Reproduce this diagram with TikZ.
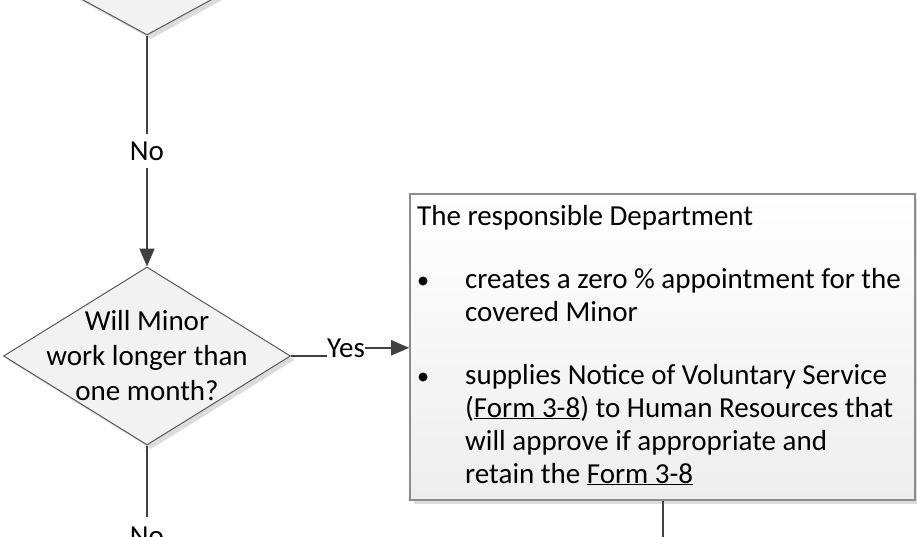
\documentclass[tikz,border=0pt]{standalone}
\usepackage{fontspec}
\setmainfont{Carlito}
\usetikzlibrary{shapes.geometric,arrows.meta,shadows}
\definecolor{lineC}{HTML}{404040}
\definecolor{diaFill}{HTML}{F2F2F2}
\definecolor{diaEdge}{HTML}{595959}
\definecolor{boxEdge}{HTML}{8C8C8C}
\definecolor{boxBot}{HTML}{EEEEEE}
\definecolor{shadowC}{HTML}{DCDCDC}
\begin{document}
\begin{tikzpicture}[x=1pt,y=-1pt,
  every node/.style={font=\fontsize{29}{33}\selectfont},
  dia/.style={shape=diamond, draw=diaEdge, line width=1pt, fill=diaFill, inner sep=0pt,
    minimum height=178pt,
    drop shadow={shadow xshift=4pt, shadow yshift=-4pt, fill=shadowC, opacity=1}},
  procbox/.style={shape=rectangle, draw=boxEdge, line width=1.6pt, top color=white, bottom color=boxBot,
    inner sep=0pt, minimum width=505pt, minimum height=306pt,
    drop shadow={shadow xshift=4pt, shadow yshift=-4pt, fill=shadowC, opacity=1}},
  txt/.style={anchor=base west, inner sep=0pt},
  ctxt/.style={anchor=base, inner sep=0pt},
  bul/.style={shape=circle, fill=black, inner sep=0pt, minimum size=9pt},
  conn/.style={draw=lineC, line width=2pt},
  arr/.style={conn, -{Triangle[length=18pt,width=15pt]}},
  lbl/.style={fill=white, inner xsep=2pt, inner ysep=8pt}
]
\useasboundingbox (0,0) rectangle (917,536);
\clip (0,0) rectangle (917,536);

% shapes
\node[dia, minimum width=326pt] (d1) at (147,-54) {};
\node[dia, minimum width=287pt] (d2) at (147,356) {};
\node[procbox] (box) at (662.5,347) {};

% decision text
\node[ctxt] (q1) at (147,330) {Will Minor};
\node[ctxt] (q2) at (147,365) {work longer than};
\node[ctxt] (q3) at (147,400) {one month?};

% box text
\node[txt] (t0) at (417,225) {The responsible Department};
\node[bul] (u1) at (423,281) {};
\node[txt] (t1) at (465,288) {creates a zero \% appointment for the};
\node[txt] (t2) at (465,321) {covered Minor};
\node[bul] (u2) at (423,377) {};
\node[txt] (t3) at (465,384) {supplies Notice of Voluntary Service};
\node[txt] (t4) at (465,417) {(\underline{Form 3-8}) to Human Resources that};
\node[txt] (t5) at (465,450) {will approve if appropriate and};
\node[txt] (t6) at (465,483) {retain the \underline{Form 3-8}};

% connectors
\draw[arr] (d1.south) -- node[lbl] (no1) {No} (d2.north);

\node[ctxt] (yes) at (346,357) {Yes};
\draw[conn] (d2.east) -- (d2.east -| yes.west);
\draw[arr] (yes.east) -- (yes.east -| box.west);

\node[anchor=north, inner sep=0pt] (no2) at (147,527) {No};
\draw[conn] (d2.south) -- ([yshift=10pt]no2.north);

\coordinate (boxout) at (662.5,545);
\draw[conn] (box.south) -- (boxout);
\end{tikzpicture}
\end{document}
